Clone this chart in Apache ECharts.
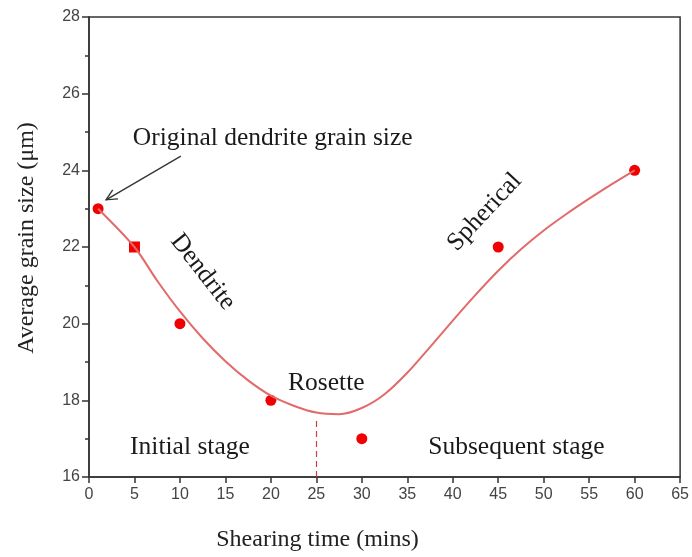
<!DOCTYPE html>
<html>
<head>
<meta charset="utf-8">
<script src="https://cdn.jsdelivr.net/npm/echarts@6/dist/echarts.min.js"></script>
<style>
  html, body { margin: 0; padding: 0; background: #fff; }
  #main { width: 692px; height: 557px; }
</style>
</head>
<body>
<div id="main"></div>
<script>
// measured points (shearing time in mins, average grain size in um)
const roundPts = [[1, 23], [10, 20], [20, 18], [30, 17], [45, 22], [60, 24]];
const squarePts = [[5, 22]];
// fitted trend curve
const curvePts = [[1, 23], [5, 22], [7.5, 21.12], [10, 20.32], [12.5, 19.62], [15, 19.02],
    [17.5, 18.52], [20, 18.12], [22.5, 17.86], [25, 17.68], [27.5, 17.64], [30, 17.8],
    [32.5, 18.16], [35, 18.72], [37.5, 19.39], [40, 20.08], [42.5, 20.75], [45, 21.38],
    [47.5, 21.94], [50, 22.43], [52.5, 22.86], [55, 23.26], [57.5, 23.64], [60, 24]];
const xTicks = { min: 0, max: 65, interval: 5 };
const yTicks = { min: 16, max: 28, interval: 2 };
const stageSplit = 25;

const serif = '"Liberation Serif", "DejaVu Serif", serif';
const red = '#f00000';

const chart = echarts.init(document.getElementById('main'));

chart.setOption({
    animation: false,
    backgroundColor: '#fff',
    grid: {
        left: 89,
        right: 11,
        top: 17,
        bottom: 80,
        show: true,
        borderColor: '#333',
        borderWidth: 1.5
    },
    xAxis: {
        type: 'value',
        min: xTicks.min,
        max: xTicks.max,
        interval: xTicks.interval,
        name: 'Shearing time (mins)',
        nameLocation: 'middle',
        nameGap: 51,
        nameTextStyle: {
            fontFamily: serif,
            fontSize: 24,
            color: '#222',
            padding: [0, 134, 0, 0]
        },
        axisLine: { lineStyle: { color: '#333', width: 1.5 } },
        axisTick: { length: 6, lineStyle: { color: '#333', width: 1.5 } },
        axisLabel: {
            margin: 10,
            fontFamily: '"Liberation Sans", Arial, sans-serif',
            fontSize: 16,
            color: '#444'
        },
        splitLine: { show: false }
    },
    yAxis: {
        type: 'value',
        min: yTicks.min,
        max: yTicks.max,
        interval: yTicks.interval,
        name: 'Average grain size (μm)',
        nameLocation: 'middle',
        nameGap: 50,
        nameTextStyle: {
            fontFamily: serif,
            fontSize: 24,
            color: '#222',
            padding: [0, 0, 0, 18]
        },
        axisLine: { lineStyle: { color: '#333', width: 1.5 } },
        axisTick: { length: 7, lineStyle: { color: '#333', width: 1.5 } },
        minorTick: { show: true, splitNumber: 2, length: 4, lineStyle: { color: '#333', width: 1.5 } },
        axisLabel: {
            margin: 9,
            fontFamily: '"Liberation Sans", Arial, sans-serif',
            fontSize: 16,
            color: '#444'
        },
        splitLine: { show: false }
    },
    series: [
        {
            name: 'trend',
            type: 'line',
            data: curvePts,
            smooth: 0.3,
            showSymbol: false,
            lineStyle: { color: '#e26a6a', width: 2 },
            markLine: {
                silent: true,
                symbol: 'none',
                label: { show: false },
                lineStyle: { color: '#c84040', type: [6, 4], width: 1.2 },
                data: [[{ coord: [stageSplit, yTicks.min] }, { coord: [stageSplit, 17.5] }]]
            }
        },
        {
            name: 'round',
            type: 'scatter',
            data: roundPts,
            symbol: 'circle',
            symbolSize: 11,
            itemStyle: { color: red, opacity: 1 }
        },
        {
            name: 'square',
            type: 'scatter',
            data: squarePts,
            symbol: 'rect',
            symbolSize: 11,
            itemStyle: { color: red, opacity: 1 }
        }
    ]
});

// annotations anchored in data coordinates
const notes = [
    { text: 'Original dendrite grain size', at: [20.2, 24.84], rot: 0 },
    { text: 'Dendrite', at: [12.5, 21.35], rot: -52 },
    { text: 'Rosette', at: [26.1, 18.45], rot: 0 },
    { text: 'Spherical', at: [43.5, 22.91], rot: 47 },
    { text: 'Initial stage', at: [11.1, 16.78], rot: 0 },
    { text: 'Subsequent stage', at: [47.0, 16.78], rot: 0 }
];
const arrowFrom = [10.1, 24.37];
const arrowTo = [1.87, 23.23];

const px = (p) => chart.convertToPixel({ gridIndex: 0 }, p);
const graphics = notes.map((n) => {
    const p = px(n.at);
    return {
        type: 'text',
        x: p[0],
        y: p[1],
        rotation: n.rot * Math.PI / 180,
        style: {
            text: n.text,
            font: '25.5px ' + serif,
            fill: '#1a1a1a',
            align: 'center',
            verticalAlign: 'middle'
        }
    };
});

const a = px(arrowFrom);
const b = px(arrowTo);
const ang = Math.atan2(a[1] - b[1], a[0] - b[0]);
const head = 12;
const spread = 0.45;
graphics.push({
    type: 'line',
    shape: { x1: a[0], y1: a[1], x2: b[0], y2: b[1] },
    style: { stroke: '#333', lineWidth: 1.3 }
});
graphics.push({
    type: 'polyline',
    shape: {
        points: [
            [b[0] + head * Math.cos(ang + spread), b[1] + head * Math.sin(ang + spread)],
            b,
            [b[0] + head * Math.cos(ang - spread), b[1] + head * Math.sin(ang - spread)]
        ]
    },
    style: { stroke: '#333', lineWidth: 1.3, fill: null }
});

chart.setOption({ graphic: graphics });
</script>
</body>
</html>
